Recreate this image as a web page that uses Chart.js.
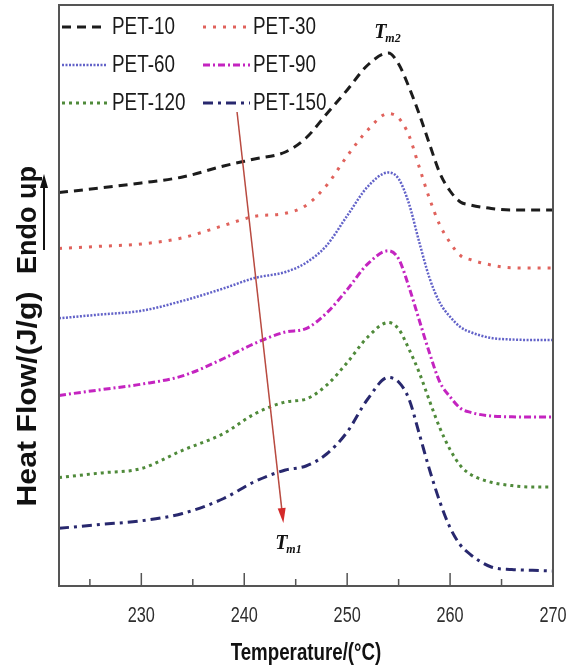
<!DOCTYPE html>
<html>
<head>
<meta charset="utf-8">
<script src="https://cdn.jsdelivr.net/npm/chart.js@4"></script>
<style>
  html, body { margin: 0; padding: 0; background: #fff; }
</style>
</head>
<body>
<canvas id="chart" width="566" height="665"></canvas>
<script>
// Temperatures (°C) at which the curves were read
const temps = [222, 226, 230, 234, 238, 241, 244, 246, 248, 250, 252, 254, 255, 256, 257, 258, 259, 260, 261, 262, 264, 266, 268, 270]

// Heat flow (arbitrary units, curves stacked with an offset like in the figure)
const pet10 = [39.35, 39.8, 40.3, 40.9, 42.0, 42.7, 43.4, 44.8, 47.2, 49.6, 52.1, 53.3, 52.2, 49.9, 47.2, 44.2, 41.3, 39.5, 38.4, 38.1, 37.75, 37.6, 37.6, 37.6]
const pet30 = [33.75, 33.97, 34.2, 34.82, 36.05, 36.97, 37.27, 38.06, 40.06, 43.0, 45.6, 47.25, 46.8, 45.06, 41.9, 38.74, 36.1, 34.34, 33.05, 32.63, 32.1, 31.82, 31.8, 31.8]
const pet60 = [26.77, 27.15, 27.52, 28.51, 29.76, 30.8, 31.4, 32.32, 34.05, 37.02, 39.94, 41.35, 40.72, 38.25, 34.4, 30.8, 28.33, 26.92, 25.9, 25.38, 24.8, 24.65, 24.6, 24.6]
const pet90 = [19.06, 19.62, 20.18, 21.01, 22.75, 24.25, 25.4, 25.74, 27.3, 29.64, 32.21, 33.52, 32.72, 29.92, 26.6, 23.3, 20.4, 18.92, 17.78, 17.36, 17.0, 16.92, 16.9, 16.9]
const pet120 = [10.85, 11.3, 11.75, 13.57, 15.25, 17.2, 18.4, 18.7, 20.08, 22.34, 24.9, 26.35, 25.7, 23.7, 21.35, 18.52, 15.82, 13.64, 12.04, 11.16, 10.37, 10.04, 9.9, 9.9]
const pet150 = [5.77, 6.15, 6.52, 7.25, 8.75, 10.44, 11.6, 12.0, 13.2, 15.4, 18.7, 20.85, 20.4, 18.72, 15.24, 11.64, 8.44, 5.83, 4.1, 3.13, 1.9, 1.65, 1.57, 1.5]

const seriesNames = ['PET-10', 'PET-30', 'PET-60', 'PET-90', 'PET-120', 'PET-150']

// Axis ticks
const majorTicks = [230, 240, 250, 260, 270]
const minorTicks = [225, 235, 245, 255, 265]

// Tm shift arrow, [temperature, heat flow]
const arrowFrom = [239.3, 47.4]
const arrowTo = [243.8, 6.3]
const tm2Anchor = [254, 54.8]

// Line styles for each series
const styles = [
    { color: '#1c1c1c', width: 3, dash: [9, 6] },
    { color: '#e0625c', width: 3, dash: [3, 7] },
    { color: '#6262c8', width: 2.5, dash: [2, 1.5] },
    { color: '#c424c0', width: 3, dash: [7, 3, 2, 3] },
    { color: '#4f8a3a', width: 3, dash: [3, 4] },
    { color: '#28286e', width: 3, dash: [10, 5, 3, 5] }
]

const allSeries = [pet10, pet30, pet60, pet90, pet120, pet150]

const datasets = allSeries.map((vals, i) => ({
    label: seriesNames[i],
    data: temps.map((t, j) => ({ x: t, y: vals[j] })),
    borderColor: styles[i].color,
    borderWidth: styles[i].width,
    borderDash: styles[i].dash,
    pointRadius: 0,
    fill: false,
    cubicInterpolationMode: 'monotone'
}))

// Narrow text: the picture's fonts are condensed, so squeeze Liberation Sans
function narrowText (ctx, text, x, y, sx) {
    ctx.save()
    ctx.translate(x, y)
    ctx.scale(sx, 1)
    ctx.fillText(text, 0, 0)
    ctx.restore()
}

// Draws the frame, inward ticks, tick labels, arrows, labels and the legend
const decor = {
    id: 'decor',
    afterDraw (chart) {
        const { ctx, chartArea: area, scales } = chart
        const xs = scales.x
        const ys = scales.y
        ctx.save()

        // frame
        ctx.strokeStyle = '#555'
        ctx.lineWidth = 2
        ctx.strokeRect(area.left, area.top, area.right - area.left, area.bottom - area.top)

        // tick marks pointing into the plot
        ctx.lineWidth = 1.5
        ctx.beginPath()
        majorTicks.forEach(v => {
            const px = xs.getPixelForValue(v)
            ctx.moveTo(px, area.bottom)
            ctx.lineTo(px, area.bottom - 13)
        })
        minorTicks.forEach(v => {
            const px = xs.getPixelForValue(v)
            ctx.moveTo(px, area.bottom)
            ctx.lineTo(px, area.bottom - 7)
        })
        ctx.stroke()

        // tick labels and x title
        ctx.fillStyle = '#2e2e2e'
        ctx.textAlign = 'center'
        ctx.textBaseline = 'middle'
        ctx.font = '22px "Liberation Sans"'
        majorTicks.forEach(v => {
            narrowText(ctx, String(v), xs.getPixelForValue(v), area.bottom + 30, 0.74)
        })
        ctx.fillStyle = '#111'
        ctx.font = 'bold 24px "Liberation Sans"'
        narrowText(ctx, 'Temperature/(°C)', (area.left + area.right) / 2, area.bottom + 67, 0.78)

        // Tm shift arrow
        const ax0 = xs.getPixelForValue(arrowFrom[0])
        const ay0 = ys.getPixelForValue(arrowFrom[1])
        const ax1 = xs.getPixelForValue(arrowTo[0])
        const ay1 = ys.getPixelForValue(arrowTo[1])
        const ang = Math.atan2(ay1 - ay0, ax1 - ax0)
        ctx.strokeStyle = '#b84a40'
        ctx.lineWidth = 1.5
        ctx.beginPath()
        ctx.moveTo(ax0, ay0)
        ctx.lineTo(ax1 - Math.cos(ang) * 10, ay1 - Math.sin(ang) * 10)
        ctx.stroke()
        ctx.fillStyle = '#d42a2a'
        ctx.beginPath()
        ctx.moveTo(ax1, ay1)
        ctx.lineTo(ax1 - Math.cos(ang) * 15 + Math.sin(ang) * 4, ay1 - Math.sin(ang) * 15 - Math.cos(ang) * 4)
        ctx.lineTo(ax1 - Math.cos(ang) * 15 - Math.sin(ang) * 4, ay1 - Math.sin(ang) * 15 + Math.cos(ang) * 4)
        ctx.closePath()
        ctx.fill()

        // Tm labels
        ctx.fillStyle = '#111'
        ctx.textAlign = 'left'
        ctx.textBaseline = 'alphabetic'
        const tx1 = ax1 - 8
        const ty1 = ay1 + 26
        ctx.font = 'italic bold 20px "Liberation Serif"'
        ctx.fillText('T', tx1, ty1)
        ctx.font = 'italic bold 12px "Liberation Serif"'
        ctx.fillText('m1', tx1 + 11, ty1 + 4)
        const tx2 = xs.getPixelForValue(tm2Anchor[0]) - 14
        const ty2 = ys.getPixelForValue(tm2Anchor[1])
        ctx.font = 'italic bold 20px "Liberation Serif"'
        ctx.fillText('T', tx2, ty2)
        ctx.font = 'italic bold 12px "Liberation Serif"'
        ctx.fillText('m2', tx2 + 11, ty2 + 4)

        // legend, two columns
        const colLine = [[62, 107], [203, 250]]
        const colText = [112, 253]
        const rowY = [27, 65, 103]
        ctx.font = '23px "Liberation Sans"'
        ctx.textBaseline = 'middle'
        chart.data.datasets.forEach((ds, i) => {
            const row = Math.floor(i / 2)
            const col = i % 2
            const y = rowY[row]
            ctx.strokeStyle = ds.borderColor
            ctx.lineWidth = ds.borderWidth
            ctx.setLineDash(ds.borderDash)
            ctx.beginPath()
            ctx.moveTo(colLine[col][0], y)
            ctx.lineTo(colLine[col][1], y)
            ctx.stroke()
            ctx.setLineDash([])
            ctx.fillStyle = '#1a1a1a'
            narrowText(ctx, ds.label, colText[col], y + 1, 0.82)
        })

        // y title with "Endo up" arrow
        ctx.fillStyle = '#111'
        ctx.font = 'bold 27px "Liberation Sans"'
        ctx.textAlign = 'center'
        ctx.textBaseline = 'middle'
        ctx.save()
        ctx.translate(29, 399)
        ctx.rotate(-Math.PI / 2)
        ctx.scale(1.12, 1)
        ctx.fillText('Heat Flow/(J/g)', 0, 0)
        ctx.restore()
        ctx.save()
        ctx.translate(29, 220)
        ctx.rotate(-Math.PI / 2)
        ctx.fillText('Endo up', 0, 0)
        ctx.restore()

        ctx.strokeStyle = '#111'
        ctx.lineWidth = 2
        ctx.beginPath()
        ctx.moveTo(44, 250)
        ctx.lineTo(44, 184)
        ctx.stroke()
        ctx.fillStyle = '#111'
        ctx.beginPath()
        ctx.moveTo(44, 174)
        ctx.lineTo(40, 188)
        ctx.lineTo(48, 188)
        ctx.closePath()
        ctx.fill()

        ctx.restore()
    }
}

const chart = new Chart(document.getElementById('chart').getContext('2d'), {
    type: 'line',
    data: { datasets: datasets },
    options: {
        responsive: false,
        animation: false,
        layout: { padding: { left: 59, top: 5, right: 13, bottom: 79 } },
        plugins: {
            legend: { display: false },
            tooltip: { enabled: false }
        },
        scales: {
            x: {
                type: 'linear',
                min: 222,
                max: 270,
                display: false
            },
            y: {
                display: false,
                min: 0,
                max: 58.1
            }
        }
    },
    plugins: [decor]
})
</script>
</body>
</html>
